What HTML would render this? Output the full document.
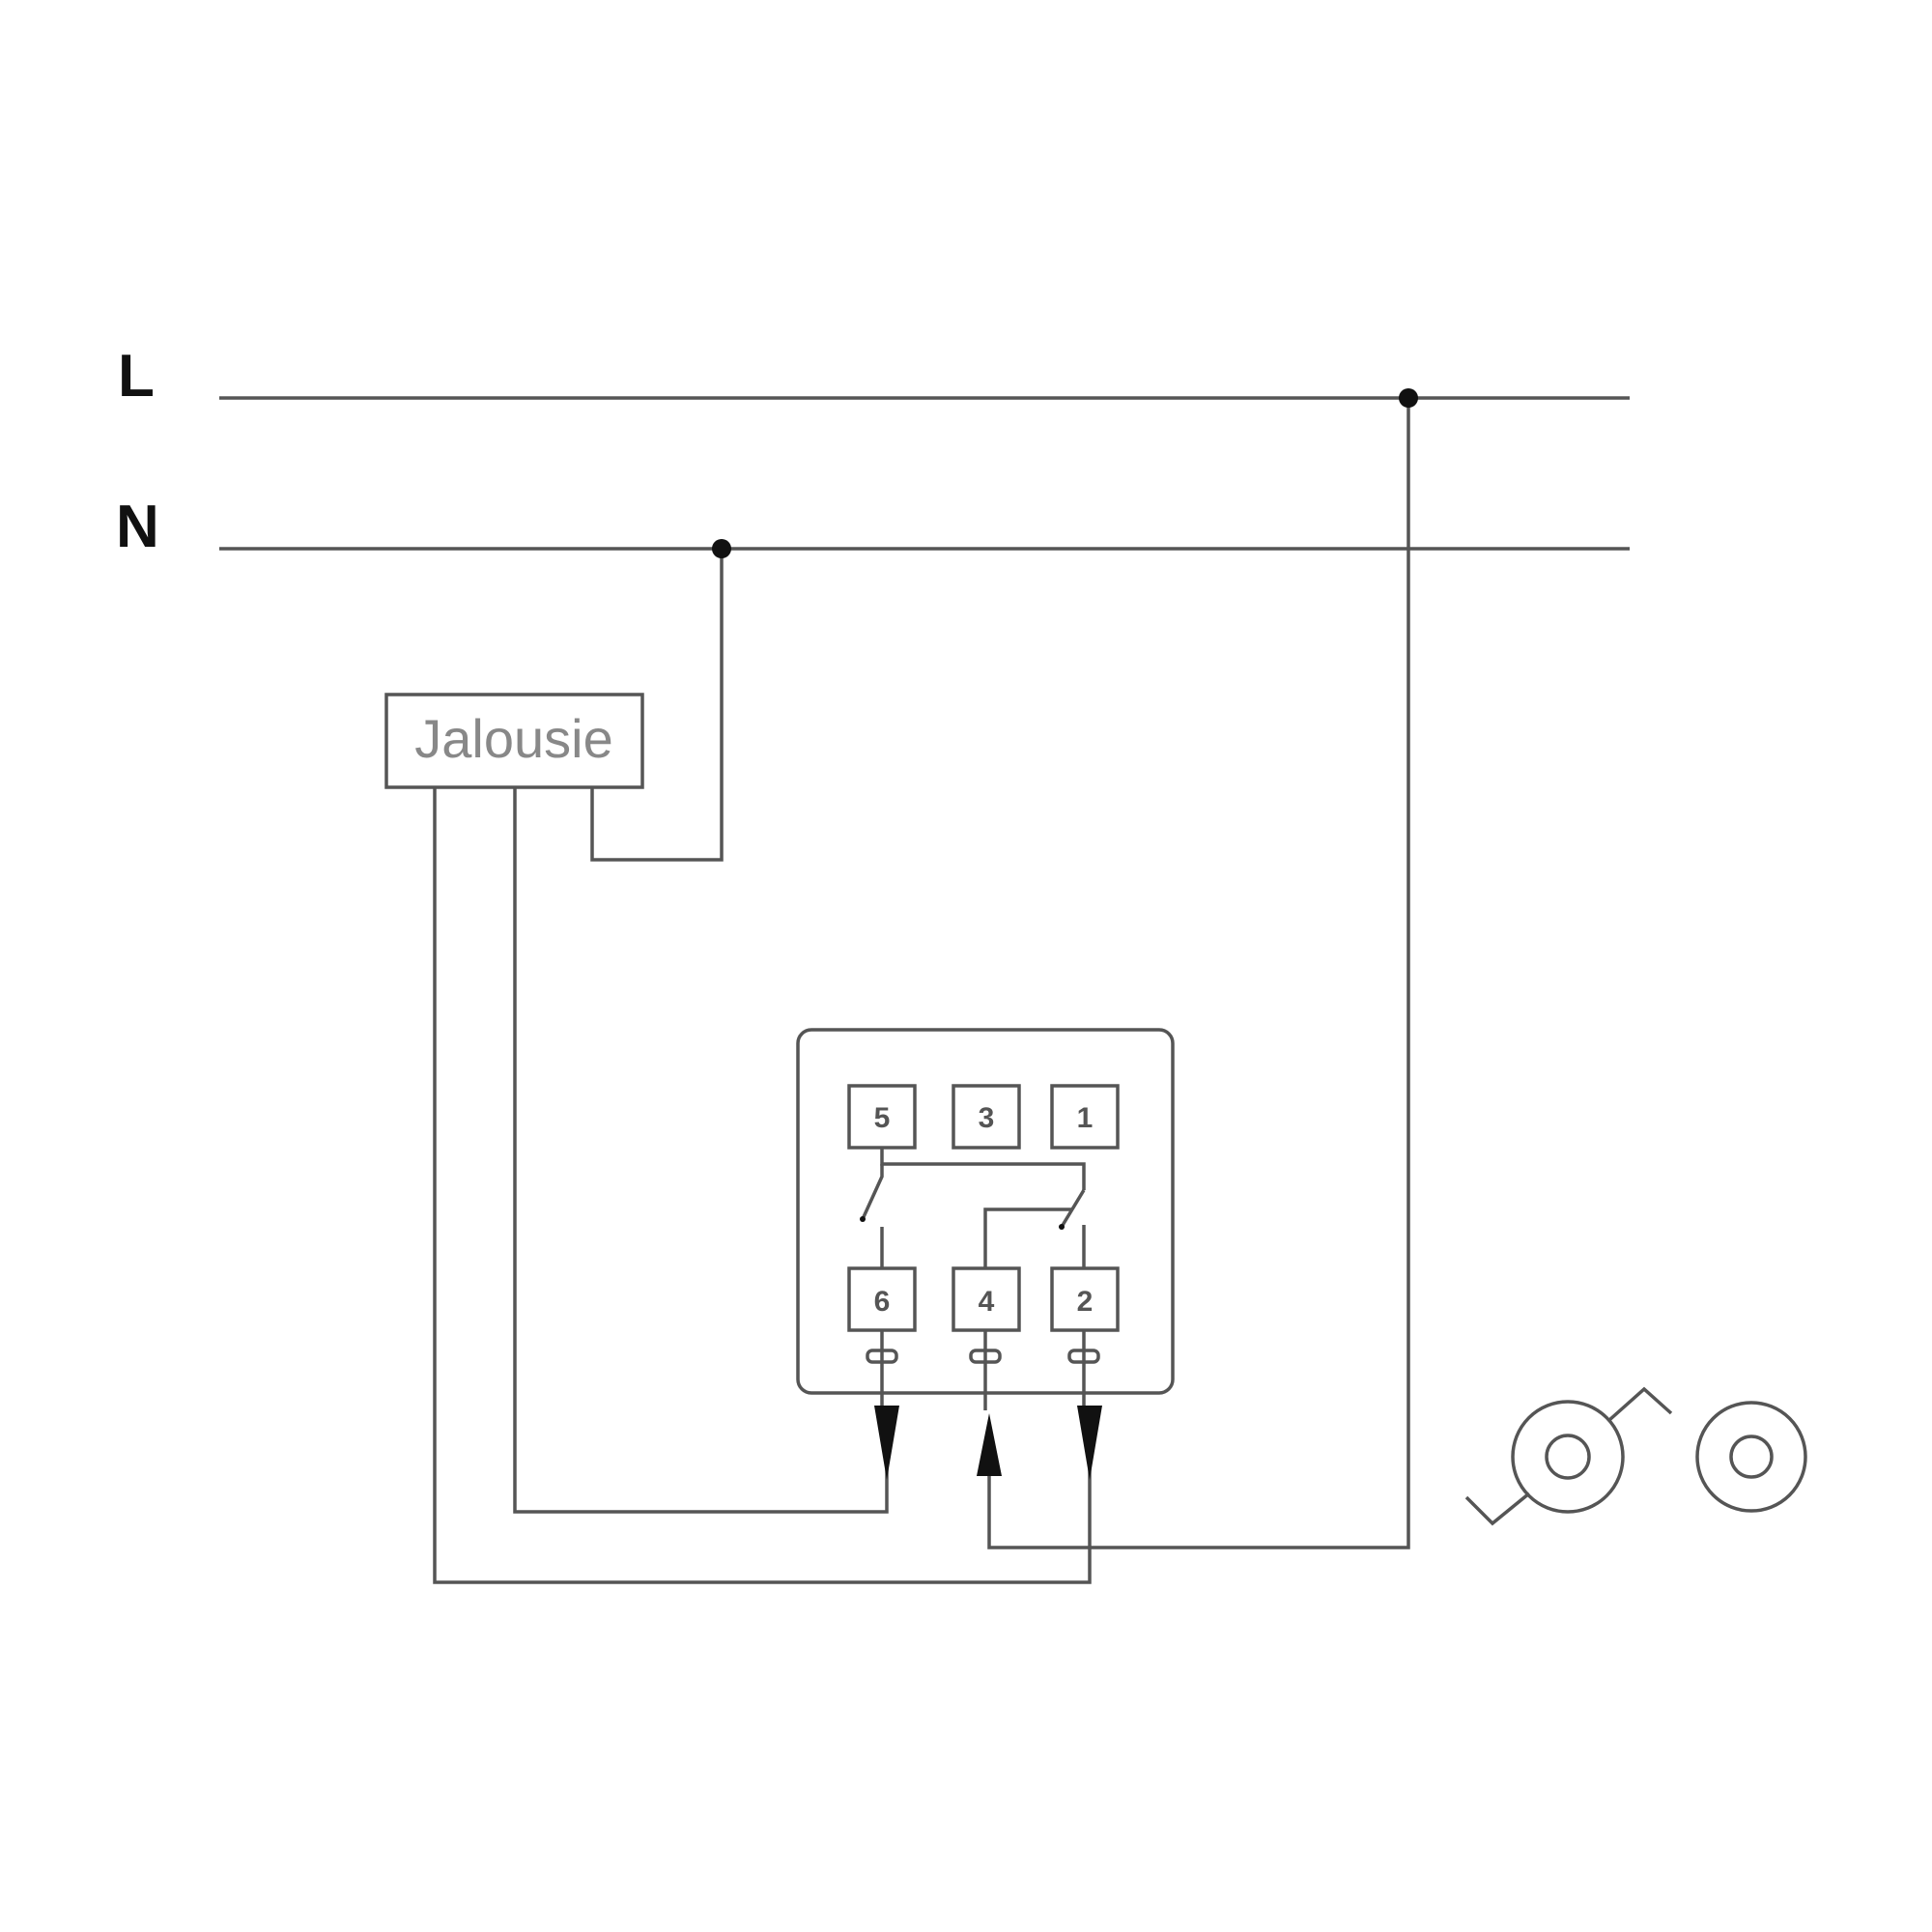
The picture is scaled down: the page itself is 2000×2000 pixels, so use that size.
<!DOCTYPE html>
<html><head><style>body{margin:0;background:#fff}</style></head><body>
<svg width="2000" height="2000" xmlns="http://www.w3.org/2000/svg" style="display:block">
<g stroke="#555" stroke-width="3.5" fill="none">
<line x1="227" y1="412" x2="1687" y2="412"/>
<line x1="227" y1="568" x2="1687" y2="568"/>
<polyline points="1458,412 1458,1602 1024,1602 1024,1500"/>
<polyline points="747,568 747,890 613,890 613,815"/>
<rect x="400" y="719" width="265" height="96"/>
<polyline points="450,815 450,1638 1128,1638 1128,1500"/>
<polyline points="533,815 533,1565 918,1565 918,1500"/>
<rect x="826" y="1066" width="388" height="376" rx="14"/>
<rect x="879" y="1124" width="68" height="64"/>
<rect x="987" y="1124" width="68" height="64"/>
<rect x="1089" y="1124" width="68" height="64"/>
<rect x="879" y="1313" width="68" height="64"/>
<rect x="987" y="1313" width="68" height="64"/>
<rect x="1089" y="1313" width="68" height="64"/>
<polyline points="913,1188 913,1205 1122,1205 1122,1232"/>
<polyline points="913,1205 913,1218 893,1262"/>
<line x1="1122" y1="1232" x2="1099" y2="1270"/>
<line x1="913" y1="1270" x2="913" y2="1313"/>
<line x1="1122" y1="1268" x2="1122" y2="1313"/>
<polyline points="1020,1313 1020,1252 1110,1252"/>
<line x1="913" y1="1377" x2="913" y2="1460"/>
<line x1="1020" y1="1377" x2="1020" y2="1460"/>
<line x1="1122" y1="1377" x2="1122" y2="1460"/>
<rect x="898" y="1398" width="30" height="12" rx="5"/>
<rect x="1005" y="1398" width="30" height="12" rx="5"/>
<rect x="1107" y="1398" width="30" height="12" rx="5"/>
<circle cx="1623" cy="1508" r="57"/><circle cx="1623" cy="1508" r="22"/>
<circle cx="1813" cy="1508" r="56"/><circle cx="1813" cy="1508" r="21"/>
<polyline points="1583,1546 1545,1577 1518,1550"/>
<polyline points="1666,1470 1702,1438 1730,1463"/>
</g>
<g fill="#111">
<circle cx="1458" cy="412" r="10"/><circle cx="747" cy="568" r="10"/>
<polygon points="905,1455 931,1455 918,1532"/>
<polygon points="1011,1528 1037,1528 1024,1463"/>
<polygon points="1115,1455 1141,1455 1128,1532"/>
<circle cx="893" cy="1262" r="3"/><circle cx="1099" cy="1270" r="3"/>
</g>
<g font-family="Liberation Sans, sans-serif">
<text x="122" y="410" font-size="62" fill="#111" font-weight="bold">L</text>
<text x="120" y="566" font-size="62" fill="#111" font-weight="bold">N</text>
<text x="532" y="784" font-size="56" fill="#888" text-anchor="middle">Jalousie</text>
<g font-size="30" fill="#555" text-anchor="middle" font-weight="bold">
<text x="913" y="1167">5</text><text x="1021" y="1167">3</text><text x="1123" y="1167">1</text>
<text x="913" y="1357">6</text><text x="1021" y="1357">4</text><text x="1123" y="1357">2</text>
</g></g>
</svg>
</body></html>
